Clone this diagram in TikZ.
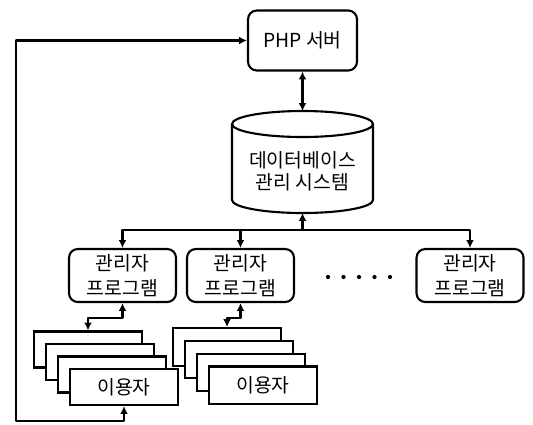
\documentclass[tikz,border=0pt]{standalone}
\usepackage{fontspec}
\setmainfont{Noto Sans CJK KR}
\usetikzlibrary{arrows.meta}
\tikzset{
  box/.style={draw, rounded corners=5pt, line width=1.2pt, align=center, inner sep=0pt, font=\fontsize{11}{14}\selectfont},
  card/.style={draw, fill=white, line width=1.2pt, minimum width=2.16cm, minimum height=0.72cm, inner sep=0pt, font=\fontsize{11}{12}\selectfont},
  link/.style={line width=1.2pt, line join=round}
}
\begin{document}
\begin{tikzpicture}[x=0.02cm, y=-0.02cm, >={Latex[length=4.5pt,width=4.5pt]}]
\useasboundingbox (0,0) rectangle (533,424);
\node[box, minimum width=2.18cm, minimum height=1.2cm] (php) at (302.5,40.5) {PHP 서버};
% database drum
\def\rx{1.41cm}
\def\ry{0.26cm}
\path (302.5,124) coordinate (dbtop)
      (302.5,200) coordinate (dbbot)
      (302.5,111) coordinate (dbhead)
      (302.5,213) coordinate (dbfoot)
      (302.5,230) coordinate (bus)
      (16,421) coordinate (loop);
\draw[link] (dbtop) ellipse [x radius=\rx, y radius=\ry];
\draw[link] ([xshift=-\rx]dbtop) -- ([xshift=-\rx]dbbot) arc[start angle=180, end angle=360, x radius=\rx, y radius=\ry] -- ([xshift=\rx]dbtop);
\node[align=center, font=\fontsize{11}{12.5}\selectfont] (db) at (302.5,171) {데이터베이스\\관리 시스템};
% admin programs
\foreach \n/\x in {1/122.5, 2/240.5, 3/470}
  \node[box, minimum width=2.14cm, minimum height=1.06cm] (prog\n) at (\x,275.5) {관리자\\프로그램};
\foreach \k in {0,...,4}
  \fill (328+15.5*\k,277) circle (1.2pt);
% user stacks
\foreach \i in {1,2,3}
  \node[card] (ua\i) at ({76+12*\i},{337+12.5*\i}) {};
\node[card] (ua4) at (124,387) {이용자};
\foreach \i in {1,2,3}
  \node[card, minimum height=0.75cm] (ub\i) at ({215+12*\i},{334+12.8*\i}) {};
\node[card, minimum height=0.75cm] (ub4) at (263,385.2) {이용자};
% connectors
\draw[link,<->] (php.south) -- (dbhead);
\draw[link,->] (bus) -- (dbfoot);
\foreach \n in {1,2,3}
  \draw[link,->] (bus) -| (prog\n.north);
\draw[link,<->] (prog1.south) -- ++(0,15) -| (ua1.north);
\draw[link,<->] (prog2.south) -- ++(0,15) -| (ub1.north);
\draw[link,<->] (ua4.south) |- (loop) |- (php.west);
\end{tikzpicture}
\end{document}
